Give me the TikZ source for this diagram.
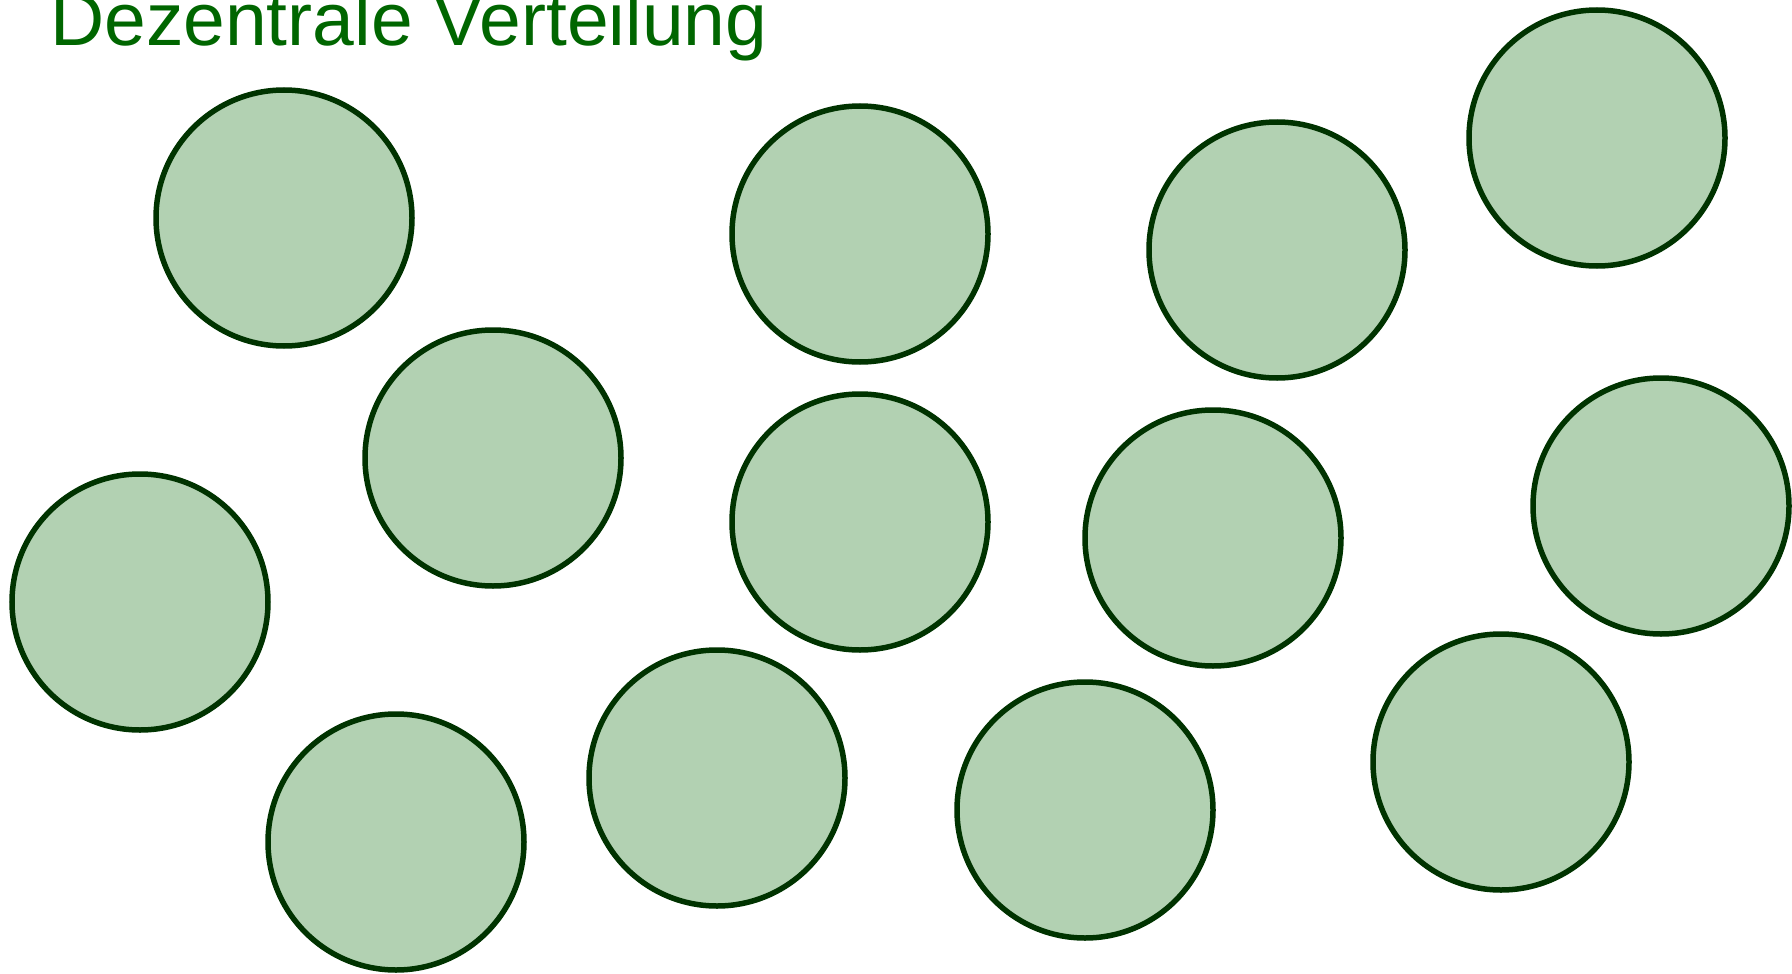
\documentclass[tikz,border=0pt]{standalone}
\usepackage{fontspec}
\setmainfont{Liberation Sans}
\definecolor{ballfill}{HTML}{B2D1B2}
\definecolor{balldraw}{HTML}{003300}
\definecolor{titlegreen}{HTML}{006600}
\begin{document}
\begin{tikzpicture}[x=1pt,y=-1pt,
  ball/.style={circle,draw=balldraw,fill=ballfill,line width=5.5pt,minimum size=256pt,inner sep=0pt},
  title/.style={text=titlegreen,font=\fontsize{75}{80}\selectfont,inner sep=0pt,anchor=base west}]
\useasboundingbox (0,0) rectangle (1792,974);
\node[title] (t) at (50,46) {Dezentrale Verteilung};
\node[ball] (c1) at (284,218) {};
\node[ball] (c2) at (860,234) {};
\node[ball] (c3) at (1277,250) {};
\node[ball] (c4) at (1597,138) {};
\node[ball] (c5) at (493,458) {};
\node[ball] (c6) at (140,602) {};
\node[ball] (c7) at (860,522) {};
\node[ball] (c8) at (1213,538) {};
\node[ball] (c9) at (1661,506) {};
\node[ball] (c10) at (396,842) {};
\node[ball] (c11) at (717,778) {};
\node[ball] (c12) at (1085,810) {};
\node[ball] (c13) at (1501,762) {};
\end{tikzpicture}
\end{document}
